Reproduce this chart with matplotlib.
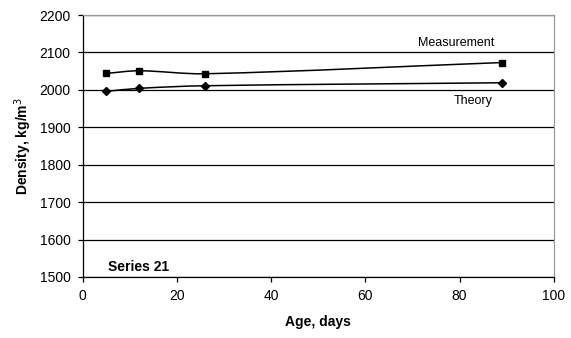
import matplotlib
matplotlib.use("Agg")
import matplotlib.pyplot as plt
from matplotlib.path import Path
from matplotlib.patches import PathPatch
import numpy as np

plt.rcParams['font.family'] = ['Liberation Sans', 'DejaVu Sans']

age = [5, 12, 26, 89]
measurement = [2044, 2051, 2043, 2073]
theory = [1996, 2004, 2011, 2019]
xticks = [0, 20, 40, 60, 80, 100]
yticks = [1500, 1600, 1700, 1800, 1900, 2000, 2100, 2200]


def smooth_path(x, y, sx, sy):
    # smooth Bezier through the points, computed in (approximately) pixel space
    pts = np.column_stack([np.asarray(x, float) * sx, np.asarray(y, float) * sy])
    n = len(pts)
    verts = [pts[0]]
    codes = [Path.MOVETO]

    def tangent(i):
        a = pts[max(i - 1, 0)]
        b = pts[min(i + 1, n - 1)]
        d = b - a
        return d / np.hypot(*d)

    for i in range(n - 1):
        p1, p2 = pts[i], pts[i + 1]
        L = np.hypot(*(p2 - p1))
        c1 = p1 + tangent(i) * L / 3.0
        c2 = p2 - tangent(i + 1) * L / 3.0
        verts += [c1, c2, p2]
        codes += [Path.CURVE4] * 3
    verts = np.array(verts)
    verts[:, 0] /= sx
    verts[:, 1] /= sy
    return Path(verts, codes)


fig = plt.figure(figsize=(5.71, 3.38), dpi=100)
ax = fig.add_axes([0.1445, 0.1805, 0.8255, 0.7751])

sx = 471 / 100.0
sy = 263 / 700.0
for s, m, ms in [(measurement, 's', 4.6), (theory, 'D', 3.6)]:
    ax.add_patch(PathPatch(smooth_path(age, s, sx, sy), fill=False, lw=1.1,
                           color='black', zorder=3))
    ax.plot(age, s, linestyle='none', marker=m, ms=ms, color='black', zorder=4)

ax.set_xlim(0, 100)
ax.set_ylim(1500, 2200)
ax.set_xticks(xticks)
ax.set_yticks(yticks)
ax.yaxis.grid(True, color='black', lw=0.9)
ax.set_axisbelow(True)
ax.tick_params(labelsize=10, length=3.6, width=0.9, color='black', pad=5)
for side in ['top', 'right']:
    ax.spines[side].set_color('#999999')
    ax.spines[side].set_linewidth(0.9)
for side in ['left', 'bottom']:
    ax.spines[side].set_color('black')
    ax.spines[side].set_linewidth(0.9)

ax.set_xlabel('Age, days', fontsize=10, fontweight='bold', labelpad=9)
ax.set_ylabel('Density, kg/m$^3$', fontsize=10, fontweight='bold', labelpad=4)

ax.text(79.3, 2124, 'Measurement', fontsize=9, va='center', ha='center')
ax.text(82.8, 1970, 'Theory', fontsize=9, va='center', ha='center')
ax.text(5.5, 1527, 'Series 21', fontsize=10, fontweight='bold', va='center', ha='left')

fig.savefig('out.png', dpi=100)
